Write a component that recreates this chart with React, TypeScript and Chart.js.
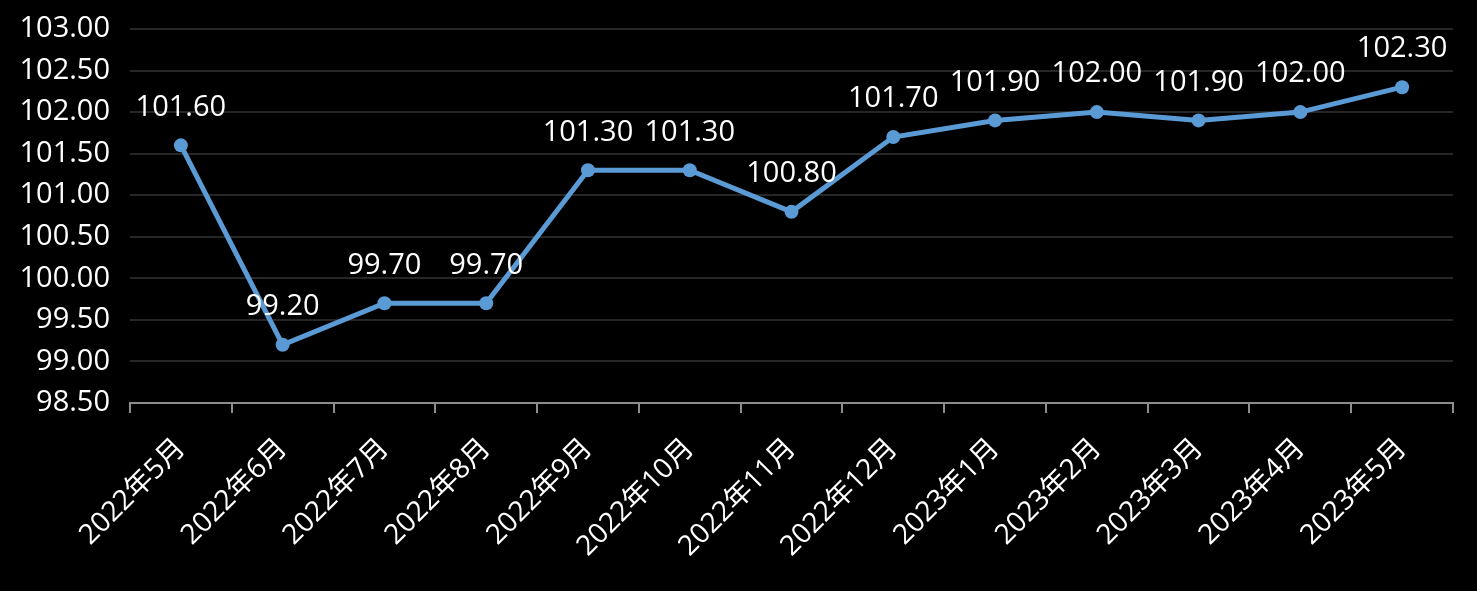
import React, { useEffect, useRef } from "react";
import { Chart, registerables } from "chart.js";

Chart.register(...registerables);

const categories = [
  "2022年5月", "2022年6月", "2022年7月", "2022年8月", "2022年9月", "2022年10月",
  "2022年11月", "2022年12月", "2023年1月", "2023年2月", "2023年3月", "2023年4月", "2023年5月",
];
const values = [101.6, 99.2, 99.7, 99.7, 101.3, 101.3, 100.8, 101.7, 101.9, 102.0, 101.9, 102.0, 102.3];
const yMin = 98.5;
const yMax = 103.0;
const yStep = 0.5;

const FONT = "'Open Sans', 'Noto Sans CJK SC', sans-serif";

const dataLabels = {
  id: "dataLabels",
  afterDatasetsDraw(chart: any) {
    const ctx = chart.ctx;
    const meta = chart.getDatasetMeta(0);
    ctx.save();
    ctx.fillStyle = "#ffffff";
    ctx.font = `29px ${FONT}`;
    ctx.textAlign = "center";
    ctx.textBaseline = "middle";
    meta.data.forEach((pt: any, i: number) => {
      ctx.fillText(values[i].toFixed(2), pt.x, pt.y - 38);
    });
    ctx.restore();
  },
};

const bg = {
  id: "bg",
  beforeDraw(chart: any) {
    const ctx = chart.ctx;
    ctx.save();
    ctx.fillStyle = "#000000";
    ctx.fillRect(0, 0, chart.width, chart.height);
    ctx.restore();
  },
};

export default function App() {
  const ref = useRef<HTMLCanvasElement | null>(null);
  useEffect(() => {
    document.body.style.margin = "0";
    document.body.style.background = "#000";
    const chart = new Chart(ref.current!, {
      type: "line",
      data: {
        labels: categories,
        datasets: [
          {
            data: values,
            borderColor: "#5B9BD5",
            backgroundColor: "#5B9BD5",
            borderWidth: 5,
            pointRadius: 7,
            pointHoverRadius: 7,
            pointBackgroundColor: "#5B9BD5",
            pointBorderWidth: 0,
            tension: 0,
          },
        ],
      },
      options: {
        animation: false,
        responsive: false,
        maintainAspectRatio: false,
        layout: { padding: { top: 29, right: 24, left: 0, bottom: 0 } },
        plugins: { legend: { display: false }, tooltip: { enabled: false } },
        scales: {
          x: {
            offset: true,
            grid: {
              offset: true,
              drawOnChartArea: false,
              drawTicks: true,
              tickLength: 10,
              color: "#8c8c8c",
              lineWidth: 2,
            },
            border: { display: true, color: "#8c8c8c", width: 2 },
            ticks: {
              color: "#ffffff",
              font: { size: 28, family: FONT },
              minRotation: 45,
              maxRotation: 45,
              autoSkip: false,
              padding: 19,
            },
            afterFit(scale: any) {
              scale.height = 188;
              scale.paddingLeft = 0;
              scale.paddingRight = 0;
            },
          },
          y: {
            min: yMin,
            max: yMax,
            grid: { color: "#262626", lineWidth: 2, drawTicks: false },
            border: { display: false },
            ticks: {
              stepSize: yStep,
              color: "#ffffff",
              font: { size: 29, family: FONT },
              padding: 20,
              callback: (v: any) => Number(v).toFixed(2),
            },
            afterFit(scale: any) {
              scale.width = 130;
              scale.paddingTop = 0;
              scale.paddingBottom = 0;
            },
          },
        },
      },
      plugins: [bg, dataLabels],
    });
    return () => chart.destroy();
  }, []);
  return (
    <div style={{ width: 1477, height: 591, background: "#000" }}>
      <canvas ref={ref} width={1477} height={591} style={{ display: "block" }} />
    </div>
  );
}
